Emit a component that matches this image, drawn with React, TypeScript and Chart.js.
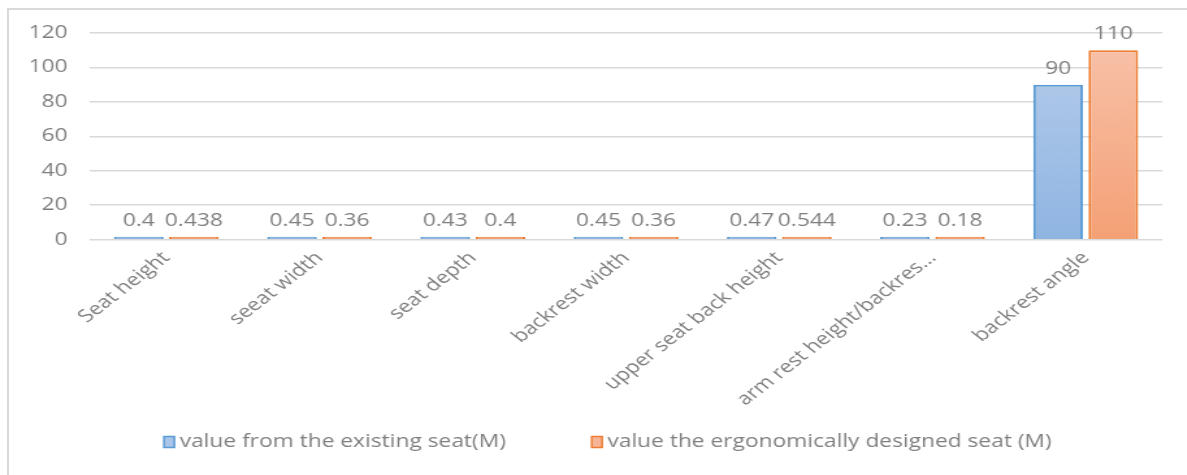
import React, { useEffect, useRef } from "react";
import { Chart, registerables } from "chart.js";

Chart.register(...registerables);

const categories = [
  "Seat height",
  "seeat width",
  "seat depth",
  "backrest width",
  "upper seat back height",
  "arm rest height/backres…",
  "backrest angle",
];
const existingSeat = [0.4, 0.45, 0.43, 0.45, 0.47, 0.23, 90];
const ergonomicSeat = [0.438, 0.36, 0.4, 0.36, 0.544, 0.18, 110];
const seriesNames = [
  "value from the existing seat(M)",
  "value the ergonomically designed seat (M)",
];
const yTicks = [0, 20, 40, 60, 80, 100, 120];

const STRETCH = 1.3;
const W = 1187;
const H = 475;
const FONT = "'Open Sans', 'Noto Sans', sans-serif";
const FS = 17.5;
const TEXT = "#7f7f7f";
const LEGEND_FILL = ["#a9c5e8", "#f6b497"];

function gradient(ctx: any, top: string, bottom: string) {
  const chart = ctx.chart;
  const area = chart.chartArea;
  if (!area) return bottom;
  const g = chart.ctx.createLinearGradient(0, area.top, 0, area.bottom);
  g.addColorStop(0, top);
  g.addColorStop(1, bottom);
  return g;
}

const valueLabels = {
  id: "valueLabels",
  afterDatasetsDraw(chart: any) {
    const ctx = chart.ctx;
    ctx.save();
    ctx.font = `${FS}px ${FONT}`;
    ctx.fillStyle = TEXT;
    ctx.textAlign = "center";
    ctx.textBaseline = "bottom";
    chart.data.datasets.forEach((ds: any, di: number) => {
      const meta = chart.getDatasetMeta(di);
      meta.data.forEach((bar: any, i: number) => {
        ctx.fillText(String(ds.data[i]), bar.x, bar.y - 7);
      });
    });
    ctx.restore();
  },
};

const bottomLegend = {
  id: "bottomLegend",
  afterDraw(chart: any) {
    const ctx = chart.ctx;
    const ds = chart.data.datasets;
    ctx.save();
    ctx.font = `${FS}px ${FONT}`;
    const boxW = 8;
    const boxH = 11;
    const textGap = 4;
    const itemGap = 66;
    const widths = ds.map((d: any) => boxW + textGap + ctx.measureText(d.label).width);
    const total = widths.reduce((a: number, b: number) => a + b, 0) + itemGap * (ds.length - 1);
    const area = chart.chartArea;
    let x = (area.left + area.right) / 2 - 14 - total / 2;
    const y = 442;
    ds.forEach((d: any, i: number) => {
      ctx.fillStyle = LEGEND_FILL[i];
      ctx.strokeStyle = d.borderColor;
      ctx.lineWidth = 1.5;
      ctx.fillRect(x, y - boxH / 2, boxW, boxH);
      ctx.strokeRect(x, y - boxH / 2, boxW, boxH);
      ctx.fillStyle = TEXT;
      ctx.textAlign = "left";
      ctx.textBaseline = "middle";
      ctx.fillText(d.label, x + boxW + textGap, y);
      x += widths[i] + itemGap;
    });
    ctx.restore();
  },
};

export default function App() {
  const ref = useRef<HTMLCanvasElement | null>(null);
  useEffect(() => {
    document.body.style.margin = "0";
    const chart = new Chart(ref.current as HTMLCanvasElement, {
      type: "bar",
      data: {
        labels: categories,
        datasets: [
          {
            label: seriesNames[0],
            data: existingSeat,
            backgroundColor: (c: any) => gradient(c, "#b7cdea", "#8fb5e2"),
            borderColor: "#5b9bd5",
            borderWidth: 2,
            minBarLength: 3,
            categoryPercentage: 0.72,
            barPercentage: 0.9,
          },
          {
            label: seriesNames[1],
            data: ergonomicSeat,
            backgroundColor: (c: any) => gradient(c, "#f8c3ab", "#f4a075"),
            borderColor: "#ed7d31",
            borderWidth: 2,
            minBarLength: 3,
            categoryPercentage: 0.72,
            barPercentage: 0.9,
          },
        ],
      },
      options: {
        animation: false,
        responsive: true,
        maintainAspectRatio: false,
        layout: { padding: { left: 5, right: 19, top: 33, bottom: 57 } },
        plugins: {
          tooltip: { enabled: false },
          legend: { display: false },
        },
        scales: {
          x: {
            grid: { display: false, drawTicks: false },
            border: { display: false },
            afterFit: (scale: any) => {
              scale.paddingLeft = 0;
            },
            ticks: {
              font: { family: FONT, size: FS },
              color: TEXT,
              minRotation: 45,
              maxRotation: 45,
              autoSkip: false,
              padding: 8,
            },
          },
          y: {
            min: 0,
            max: 120,
            afterBuildTicks: (axis: any) => {
              axis.ticks = yTicks.map((v) => ({ value: v }));
            },
            grid: { color: "#d9d9d9", lineWidth: 1.5, drawTicks: false },
            border: { display: false },
            ticks: {
              font: { family: FONT, size: FS },
              color: TEXT,
              padding: 17,
            },
          },
        },
      },
      plugins: [valueLabels, bottomLegend],
    });
    return () => chart.destroy();
  }, []);
  return (
    <div style={{ position: "relative", width: W, height: H, background: "#fff", overflow: "hidden" }}>
      <div
        style={{
          position: "absolute",
          left: 0,
          top: 0,
          width: W / STRETCH,
          height: H,
          transform: `scaleX(${STRETCH})`,
          transformOrigin: "0 0",
        }}
      >
        <canvas ref={ref} />
      </div>
      <div
        style={{
          position: "absolute",
          left: 7,
          top: 8,
          right: 0,
          bottom: 0,
          borderTop: "2px solid #d9d9d9",
          borderLeft: "2px solid #d9d9d9",
          pointerEvents: "none",
        }}
      />
    </div>
  );
}
